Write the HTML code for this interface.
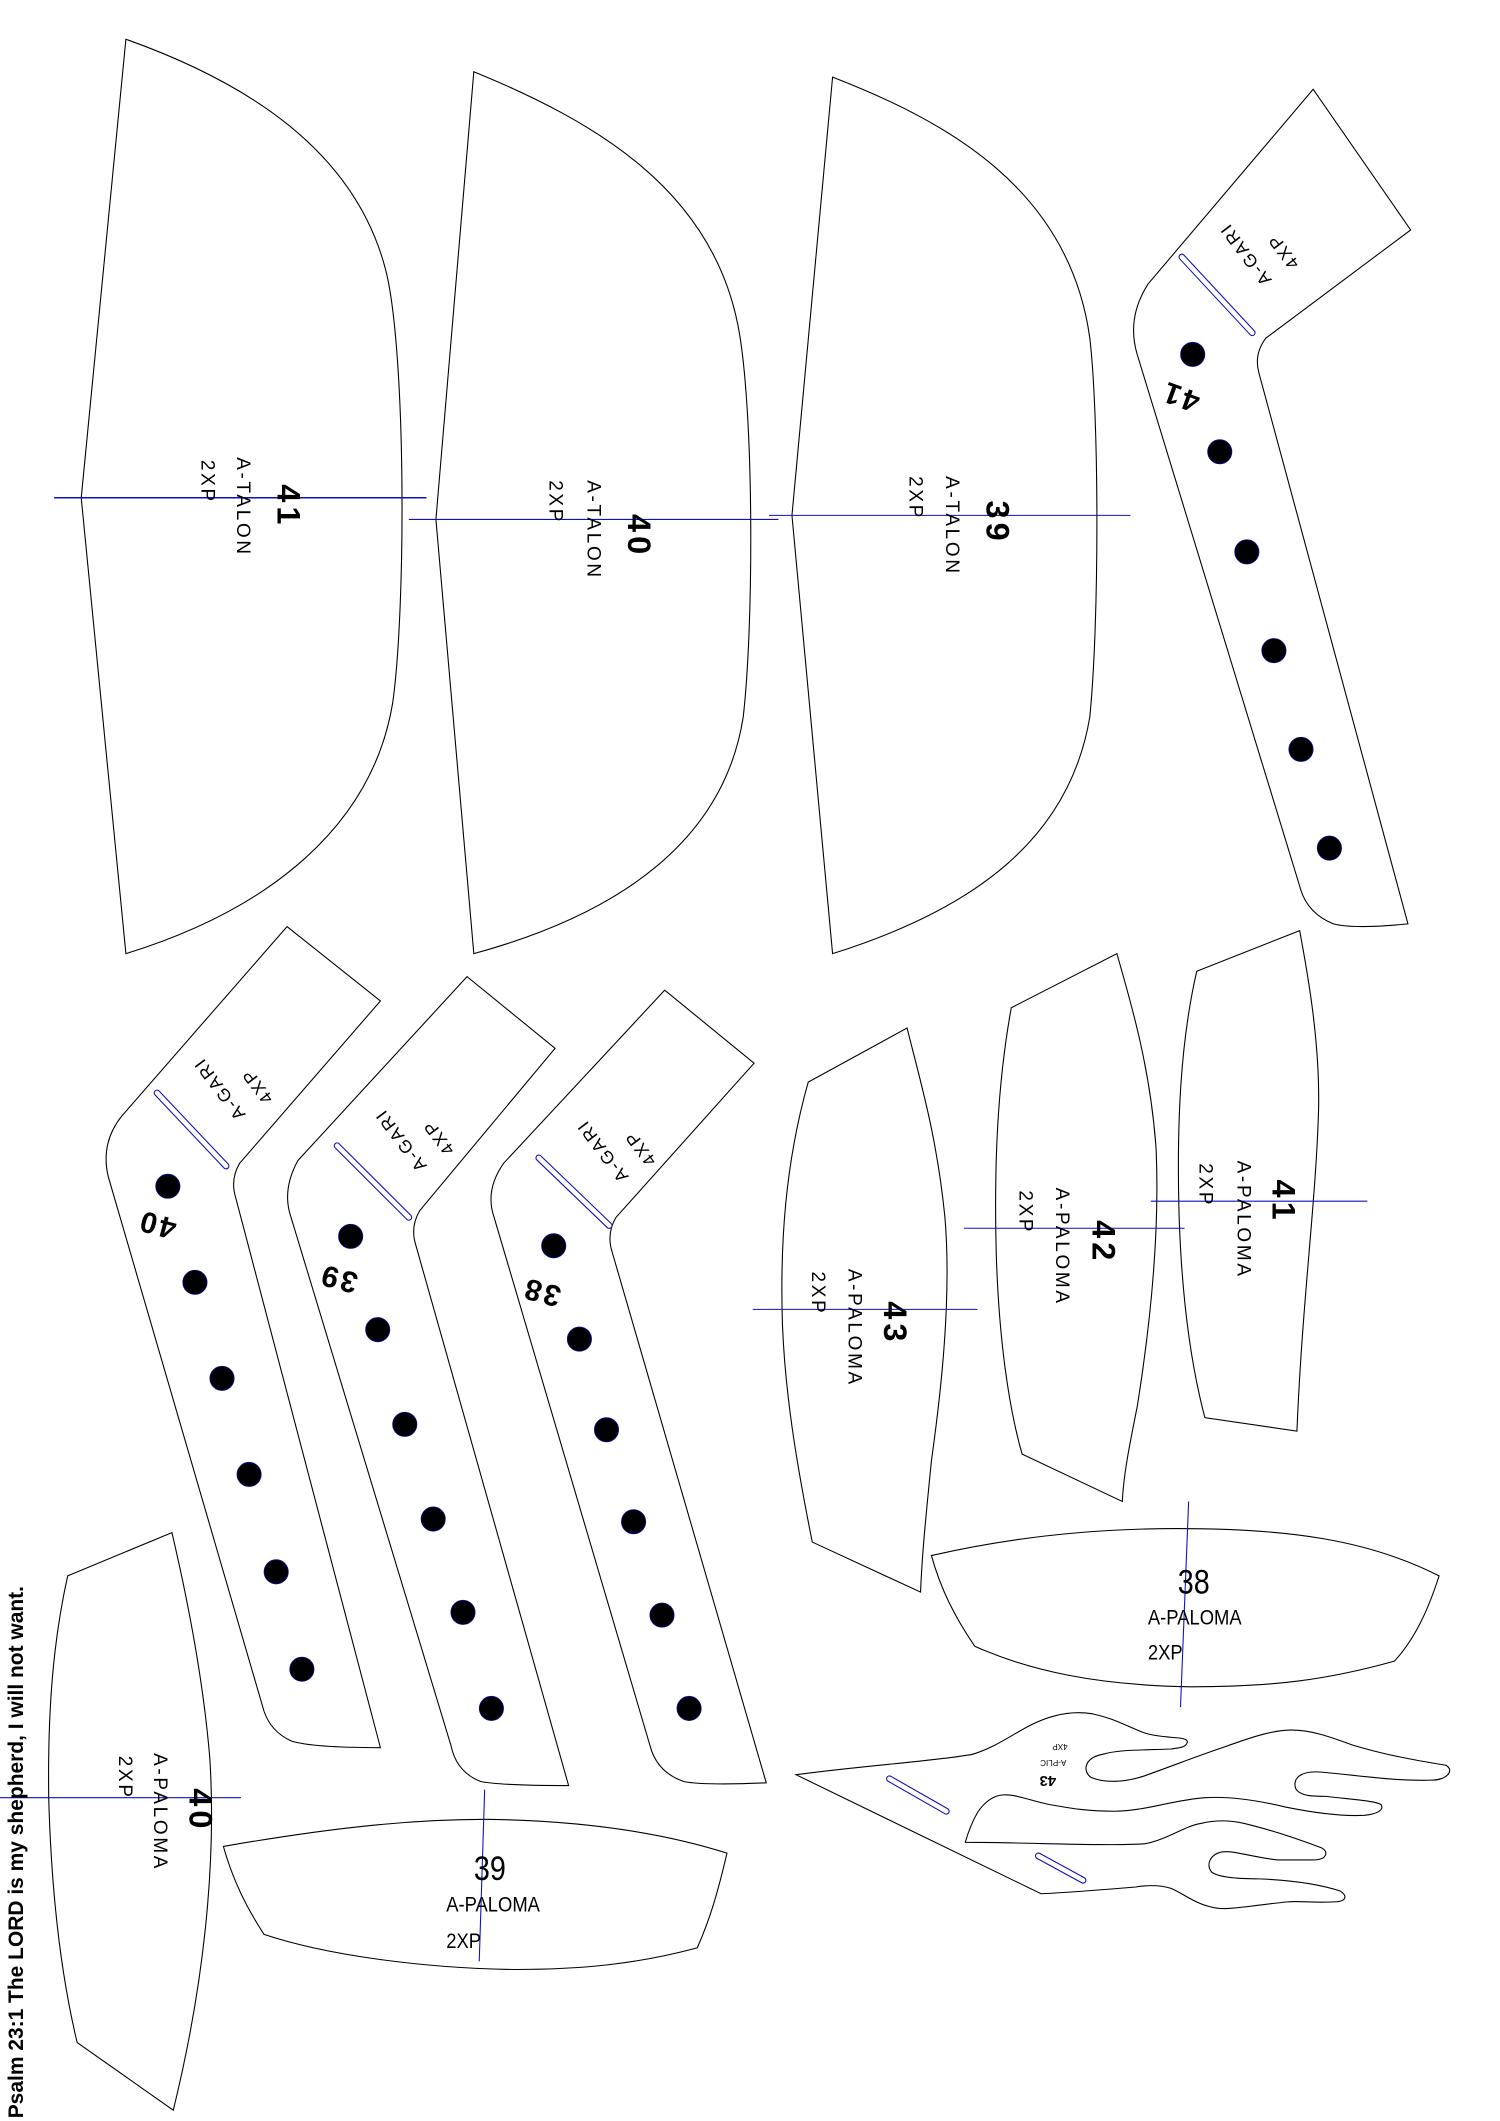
<!DOCTYPE html>
<html><head><meta charset="utf-8"><style>
html,body{margin:0;padding:0;background:#fff;}
svg{display:block;}
text{font-family:"Liberation Sans",sans-serif;fill:#000;}
</style></head><body>
<svg width="1500" height="2121" viewBox="0 0 1108 1568" preserveAspectRatio="none" xmlns="http://www.w3.org/2000/svg">
<rect width="1108" height="1568" fill="#fff"/>
<g fill="none" stroke="#000" stroke-width="0.8">
<path d="M93,29 C180,60 262,110 285,200 C300,260 300,450 290,520 C275,610 200,672 93,705 L60,368 Z"/>
<path d="M350,53 C440,90 525,140 545,240 C557,300 557,460 549,530 C535,620 460,675 350,705 L322,384 Z"/>
<path d="M615,57 C700,90 790,140 805,250 C812,310 812,460 805,530 C790,620 720,672 615,705 L585,381 Z"/>
<path d="M970,66 L1042,170 L935,250 Q926,262 930,276 L1040,683 Q1000,687 985,683 Q965,675 960,655 L840,262 Q832,235 848,210 Z"/>
<path d="M212,685 L281,740 L177,860 Q170,872 174,885 L281,1292 Q230,1292 215,1287 Q200,1280 195,1265 L80,870 Q74,845 90,825 Z"/>
<path d="M345,722 L410,775 L310,895 Q303,907 307,920 L420,1320 Q370,1320 355,1317 Q337,1310 333,1290 L215,900 Q208,880 220,858 Z"/>
<path d="M491,732 L557,786 L455,900 Q448,912 452,925 L566,1318 Q520,1320 505,1317 Q485,1310 480,1290 L365,900 Q358,880 372,860 Z"/>
<path d="M597,800 L670,760 C680,800 692,840 698,900 C703,960 695,1030 688,1080 C684,1120 681,1150 680,1177 L600,1140 C588,1080 580,1030 578,980 C576,920 580,860 597,800 Z"/>
<path d="M747,745 L825,705 C835,740 850,790 854,850 C857,920 848,990 840,1040 C834,1070 830,1090 829,1110 L755,1075 C745,1040 738,990 736,930 C734,860 737,800 747,745 Z"/>
<path d="M884,718 L960,688 C966,720 975,770 974,820 C972,890 962,960 958,1058 L890,1048 C880,1010 873,960 871,900 C869,830 872,770 884,718 Z"/>
<path d="M50,1165 L127,1133 C138,1180 150,1240 155,1300 C160,1380 150,1470 128,1560 L57,1510 C45,1460 38,1400 36,1330 C35,1260 40,1210 50,1165 Z"/>
<path d="M688,1150 C740,1138 800,1130 870,1130 C950,1130 1010,1138 1063,1165 C1055,1190 1045,1212 1030,1228 C980,1242 940,1247 880,1247 C810,1246 760,1235 720,1217 C705,1195 695,1175 688,1150 Z"/>
<path d="M165,1365 C240,1352 300,1345 360,1345 C430,1346 490,1355 537,1370 C530,1400 524,1420 515,1440 C470,1452 430,1456 380,1456 C310,1455 240,1445 195,1430 C182,1410 172,1390 165,1365 Z"/>
<path d="M588,1312 C640,1305 690,1302 718,1297 C735,1292 748,1282 762,1275 C780,1266 795,1265 807,1267 C822,1270 832,1276 845,1281 C860,1286 878,1283 877,1288 C876,1292 871,1292 865,1293 C845,1294 828,1293 814,1297 C800,1300 800,1310 806,1314 C815,1318 830,1318 845,1313 C870,1304 885,1298 903,1292 C925,1284 940,1279 954,1279 C970,1279 985,1285 999,1290 C1025,1298 1050,1302 1068,1305 C1075,1309 1068,1316 1058,1316 C1030,1317 1000,1312 975,1310 C960,1309 955,1315 957,1322 C960,1328 970,1328 980,1328 C995,1330 1015,1331 1020,1334 C1023,1338 1017,1341 1008,1342 C990,1343 970,1340 950,1336 C925,1330 905,1328 890,1329 C865,1331 845,1339 823,1339 C800,1339 787,1336 775,1334 C760,1331 750,1326 740,1327 C732,1328 726,1334 722,1340 C718,1347 715,1355 713,1362 C760,1362 815,1365 846,1363 C862,1360 875,1350 887,1348 C900,1345 910,1346 919,1348 C940,1353 960,1360 976,1366 C982,1369 980,1375 970,1375 C960,1375 950,1375 944,1375 C925,1373 912,1368 903,1369 C893,1371 891,1379 895,1384 C900,1388 915,1389 930,1389 C955,1390 975,1393 990,1398 C996,1402 994,1406 985,1406 C970,1407 960,1405 951,1406 C930,1408 915,1411 903,1411 C885,1410 875,1400 865,1396 C855,1393 845,1394 839,1395 C815,1397 790,1399 769,1400 Z"/>
</g>
<g stroke="#1010c0" stroke-width="0.8" fill="none">
<line x1="40" y1="368" x2="315" y2="368" stroke-width="1.1"/>
<line x1="302" y1="384" x2="575" y2="384"/>
<line x1="568" y1="381" x2="835" y2="381"/>
<line x1="556" y1="968" x2="722" y2="968"/>
<line x1="712" y1="908" x2="875" y2="908"/>
<line x1="850" y1="888" x2="1010" y2="888"/>
<line x1="0" y1="1329" x2="178" y2="1329"/>
<line x1="878" y1="1110" x2="872" y2="1262"/>
<line x1="358" y1="1323" x2="354" y2="1450"/>
</g>
<g stroke-linecap="round" fill="none">
<g stroke="#1010c0" stroke-width="5">
<line x1="873" y1="190" x2="925" y2="246"/>
<line x1="116" y1="808" x2="167" y2="862"/>
<line x1="249" y1="847" x2="302" y2="900"/>
<line x1="398" y1="856" x2="450" y2="906"/>
<line x1="657" y1="1315" x2="699" y2="1339"/>
<line x1="767" y1="1372" x2="800" y2="1390"/>
</g>
<g stroke="#fff" stroke-width="3.4">
<line x1="873" y1="190" x2="925" y2="246"/>
<line x1="116" y1="808" x2="167" y2="862"/>
<line x1="249" y1="847" x2="302" y2="900"/>
<line x1="398" y1="856" x2="450" y2="906"/>
<line x1="657" y1="1315" x2="699" y2="1339"/>
<line x1="767" y1="1372" x2="800" y2="1390"/>
</g>
</g>
<g fill="#000" stroke="#1010c0" stroke-width="0.5">
<circle cx="881" cy="262" r="9"/><circle cx="901" cy="334" r="9"/><circle cx="921" cy="408" r="9"/><circle cx="941" cy="481" r="9"/><circle cx="961" cy="554" r="9"/><circle cx="982" cy="627" r="9"/>
<circle cx="124" cy="877" r="9"/><circle cx="144" cy="948" r="9"/><circle cx="164" cy="1019" r="9"/><circle cx="184" cy="1090" r="9"/><circle cx="204" cy="1162" r="9"/><circle cx="223" cy="1234" r="9"/>
<circle cx="259" cy="914" r="9"/><circle cx="279" cy="983" r="9"/><circle cx="299" cy="1053" r="9"/><circle cx="320" cy="1123" r="9"/><circle cx="342" cy="1192" r="9"/><circle cx="363" cy="1263" r="9"/>
<circle cx="409" cy="921" r="9"/><circle cx="428" cy="990" r="9"/><circle cx="448" cy="1057" r="9"/><circle cx="468" cy="1125" r="9"/><circle cx="489" cy="1194" r="9"/><circle cx="509" cy="1263" r="9"/>
</g>
<g dominant-baseline="central">
<g font-size="24" font-weight="bold" letter-spacing="3">
<text transform="translate(213,358) rotate(90)">41</text>
<text transform="translate(472,380) rotate(90)">40</text>
<text transform="translate(737,370) rotate(90)">39</text>
<text transform="translate(661,962) rotate(90)">43</text>
<text transform="translate(815,902) rotate(90)">42</text>
<text transform="translate(948,872) rotate(90)">41</text>
<text transform="translate(148,1322) rotate(90)">40</text>
</g>
<g font-size="14" letter-spacing="2">
<text transform="translate(179,338) rotate(90)">A-TALON</text>
<text transform="translate(153,340) rotate(90)">2XP</text>
<text transform="translate(438,355) rotate(90)">A-TALON</text>
<text transform="translate(410,355) rotate(90)">2XP</text>
<text transform="translate(703,352) rotate(90)">A-TALON</text>
<text transform="translate(676,352) rotate(90)">2XP</text>
<text transform="translate(631,938) rotate(90)">A-PALOMA</text>
<text transform="translate(604,940) rotate(90)">2XP</text>
<text transform="translate(784,878) rotate(90)">A-PALOMA</text>
<text transform="translate(757,880) rotate(90)">2XP</text>
<text transform="translate(918,858) rotate(90)">A-PALOMA</text>
<text transform="translate(890,860) rotate(90)">2XP</text>
<text transform="translate(118,1296) rotate(90)">A-PALOMA</text>
<text transform="translate(92,1298) rotate(90)">2XP</text>
</g>
</g>
<g transform="translate(870,1178) scale(0.85,1)"><text x="0" y="0" font-size="25">38</text>
<text x="-26" y="23" font-size="16">A-PALOMA</text>
<text x="-26" y="49" font-size="16">2XP</text></g>
<g transform="translate(350,1390) scale(0.85,1)"><text x="0" y="0" font-size="25">39</text>
<text x="-24" y="23" font-size="16">A-PALOMA</text>
<text x="-24" y="50" font-size="16">2XP</text></g>
<g text-anchor="middle" dominant-baseline="central" font-size="13" letter-spacing="1.5">
<text transform="translate(920,188) rotate(233)">A-GARI</text>
<text transform="translate(948,186) rotate(233)">4XP</text>
<text transform="translate(872,293) rotate(200)" font-size="22" font-weight="bold" letter-spacing="2">41</text>
<text transform="translate(162,805) rotate(233)">A-GARI</text>
<text transform="translate(190,803) rotate(233)">4XP</text>
<text transform="translate(116,905) rotate(195)" font-size="22" font-weight="bold" letter-spacing="2">40</text>
<text transform="translate(296,843) rotate(233)">A-GARI</text>
<text transform="translate(324,841) rotate(233)">4XP</text>
<text transform="translate(250,945) rotate(195)" font-size="22" font-weight="bold" letter-spacing="2">39</text>
<text transform="translate(445,851) rotate(233)">A-GARI</text>
<text transform="translate(473,849) rotate(233)">4XP</text>
<text transform="translate(400,955) rotate(195)" font-size="22" font-weight="bold" letter-spacing="2">38</text>
</g>
<g text-anchor="middle" dominant-baseline="central">
<text transform="translate(774,1316) rotate(180)" font-size="11" font-weight="bold">43</text>
<text transform="translate(778,1303) rotate(180)" font-size="6">A-PLIC</text>
<text transform="translate(783,1291) rotate(180)" font-size="6">4XP</text>
</g>
<text transform="translate(17,1566) rotate(-90)" font-size="15.5" font-weight="bold">Psalm 23:1 The LORD is my shepherd, I will not want.</text>
</svg>
</body></html>
